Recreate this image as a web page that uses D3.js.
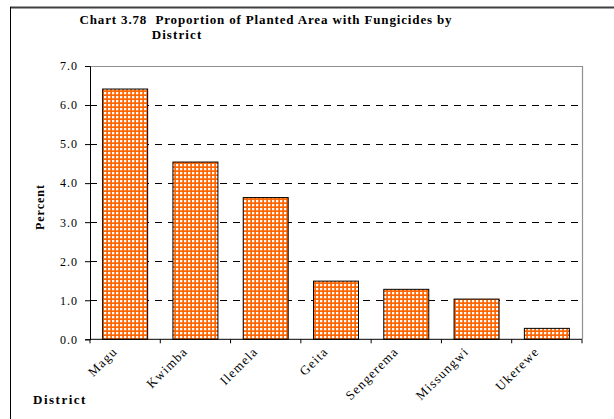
<!DOCTYPE html>
<html><head><meta charset="utf-8">
<script src="https://cdn.jsdelivr.net/npm/d3@7"></script>
<style>body{margin:0;background:#fff}svg{display:block}text{font-family:"Liberation Serif","Times New Roman",serif;white-space:pre}</style>
</head><body>
<svg id="c" width="614" height="419"></svg>
<script>
const categories = ["Magu","Kwimba","Ilemela","Geita","Sengerema","Missungwi","Ukerewe"];
const values = [6.41, 4.54, 3.63, 1.49, 1.28, 1.03, 0.28];
const yTicks = [0,1,2,3,4,5,6,7];

const svg = d3.select("#c");
const m = {left:90, top:66, right:582, bottom:339.3};

const defs = svg.append("defs");
const pat = defs.append("pattern").attr("id","chk").attr("width",4).attr("height",4).attr("patternUnits","userSpaceOnUse");
pat.append("rect").attr("width",4).attr("height",4).attr("fill","#ff6600");
pat.append("rect").attr("x",0).attr("y",0).attr("width",2).attr("height",2).attr("fill","#ffffff");
pat.append("rect").attr("x",2).attr("y",0).attr("width",0.6).attr("height",2).attr("fill","#ffb080");
pat.append("rect").attr("x",0).attr("y",2).attr("width",2).attr("height",0.6).attr("fill","#ffb080");

// outer frame
svg.append("line").attr("x1",10).attr("x2",614).attr("y1",7.5).attr("y2",7.5).attr("stroke","#404040").attr("stroke-width",2);
svg.append("line").attr("x1",10.5).attr("x2",10.5).attr("y1",7).attr("y2",419).attr("stroke","#000").attr("stroke-width",1);

const x = d3.scaleBand().domain(categories).range([m.left, m.right]).paddingInner(0.36).paddingOuter(0.18);
const xb = d3.scaleBand().domain(categories).range([m.left, m.right]);
const y = d3.scaleLinear().domain([0,7]).range([m.bottom, m.top]);

// gridlines
svg.append("g").selectAll("line").data(yTicks.filter(t=>t>0 && t<7)).join("line")
  .attr("x1",m.left).attr("x2",m.right).attr("y1",d=>Math.round(y(d))+0.5).attr("y2",d=>Math.round(y(d))+0.5)
  .attr("stroke","#000").attr("stroke-dasharray","7,6").attr("stroke-width",1);

// plot border top/right
svg.append("path").attr("d",`M${m.left},${m.top+0.5}H${m.right+0.5}V${m.bottom}`).attr("fill","none").attr("stroke","#909090").attr("stroke-width",1.2);

// bars
svg.append("g").selectAll("rect").data(values).join("rect")
  .attr("x",(d,i)=>x(categories[i])).attr("width",x.bandwidth())
  .attr("y",d=>y(d)).attr("height",d=>y(0)-y(d))
  .attr("fill","url(#chk)").attr("stroke","#000").attr("stroke-width",1);

// y axis
const ya = svg.append("g").attr("transform",`translate(${m.left},0)`)
  .call(d3.axisLeft(y).tickValues(yTicks).tickFormat(d3.format(".1f")).tickSize(5).tickPadding(7));
ya.select(".domain").attr("stroke","#000");
ya.selectAll("text").attr("font-size","12px").attr("letter-spacing","1px").attr("fill","#000").style("font-family","Liberation Serif");

// x axis
const xa = svg.append("g").attr("transform",`translate(0,${m.bottom})`);
xa.append("line").attr("x1",m.left).attr("x2",m.right).attr("stroke","#000");
xa.selectAll("line.t").data(categories.concat(["end"])).join("line").attr("class","t")
  .attr("x1",(d,i)=>m.left+i*xb.step()).attr("x2",(d,i)=>m.left+i*xb.step()).attr("y1",0).attr("y2",4).attr("stroke","#000");
xa.selectAll("text").data(categories).join("text")
  .attr("transform",d=>`translate(${xb(d)+xb.bandwidth()/2-7},${13}) rotate(-45)`)
  .attr("text-anchor","end").attr("font-size","13px").attr("letter-spacing","1.2px").text(d=>d);

// titles
svg.append("text").attr("x",266).attr("y",24).attr("text-anchor","middle").attr("font-weight","bold").attr("font-size","13px").attr("letter-spacing","0.85px").text("Chart 3.78  Proportion of Planted Area with Fungicides by");
svg.append("text").attr("x",177).attr("y",39).attr("text-anchor","middle").attr("font-weight","bold").attr("font-size","13px").attr("letter-spacing","1.1px").text("District");
svg.append("text").attr("transform","translate(44,207) rotate(-90)").attr("text-anchor","middle").attr("font-weight","bold").attr("font-size","12px").attr("letter-spacing","1px").text("Percent");
svg.append("text").attr("x",33).attr("y",404).attr("font-weight","bold").attr("font-size","13px").attr("letter-spacing","1.5px").text("District");
</script>
</body></html>
